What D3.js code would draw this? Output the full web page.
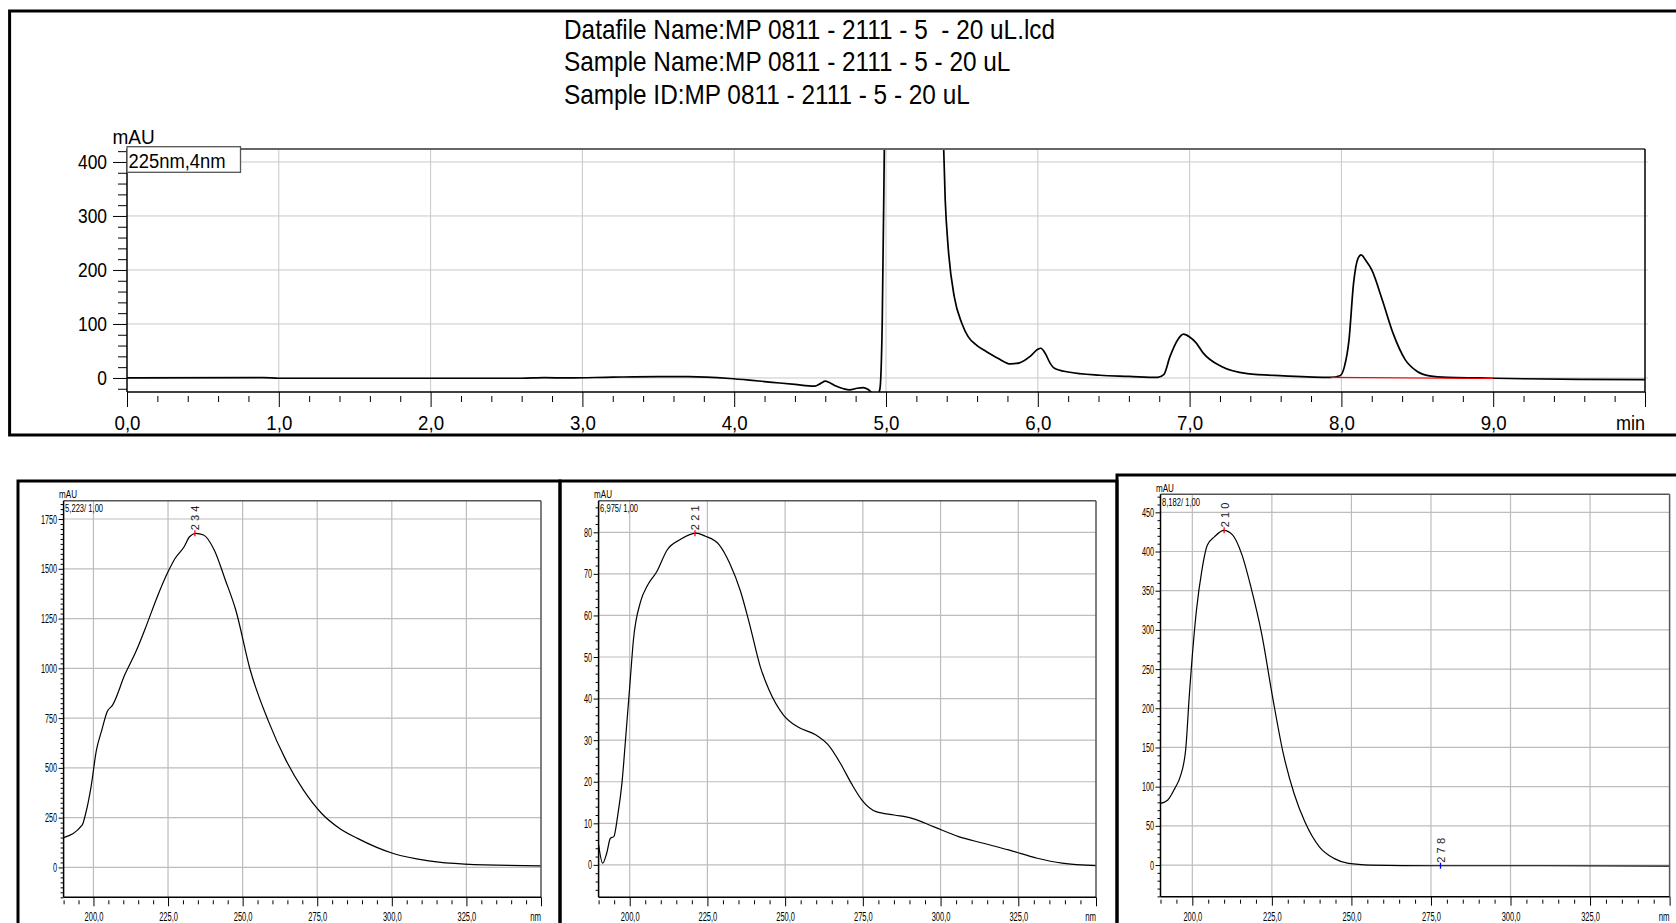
<!DOCTYPE html>
<html>
<head>
<meta charset="utf-8">
<script src="https://cdn.jsdelivr.net/npm/d3@7"></script>
<style>
	body { margin: 0; background: #fff; }
	text { font-family: "Liberation Sans", Arial, sans-serif; fill: #000; }
</style>
</head>
<body>
<svg id="chart" width="1676" height="923"></svg>
<script>

var titleLines = [
	"Datafile Name:MP 0811 - 2111 - 5  - 20 uL.lcd",
	"Sample Name:MP 0811 - 2111 - 5 - 20 uL",
	"Sample ID:MP 0811 - 2111 - 5 - 20 uL"
];
var channelLabel = "225nm,4nm";

// chromatogram, min / mAU
var timeTicks = [0, 1, 2, 3, 4, 5, 6, 7, 8, 9, 10];
var timeRange = [0, 10];
var absTicks = [0, 100, 200, 300, 400];
var absRange = [-26, 424];
var chromTime = [0.0, 0.9, 1.0, 1.5, 2.0, 2.6, 2.75, 2.9, 3.2, 3.5, 3.7, 3.97, 4.1, 4.25, 4.4, 4.53, 4.57, 4.60, 4.63, 4.67,
	4.72, 4.76, 4.81, 4.85, 4.88, 4.91, 4.94, 4.96, 4.975, 4.99, 5.02, 5.1, 5.22, 5.32, 5.37, 5.39, 5.41, 5.45, 5.50, 5.54,
	5.60, 5.66, 5.74, 5.82, 5.88, 5.95, 6.00, 6.02, 6.05, 6.08, 6.11, 6.2, 6.41, 6.6, 6.79, 6.83, 6.87, 6.92, 6.96, 7.0,
	7.04, 7.09, 7.21, 7.38, 7.62, 7.93, 7.99, 8.02, 8.05, 8.08, 8.11, 8.13, 8.16, 8.20, 8.27, 8.34, 8.42, 8.50, 8.58, 8.7,
	8.9, 9.2, 9.6, 10.0];
var chromAbs = [0, 0.5, -0.5, -0.5, -0.5, -0.5, 0.5, 0, 1.5, 2.5, 2.5, -1, -4, -8, -12, -15, -10, -6, -9, -15,
	-20, -22, -19, -18, -21, -28, -34, -20, 100, 450, 1200, 1700, 1900, 1300, 520, 330, 240, 150, 101, 77,
	60, 49, 36, 26, 28, 40, 53, 55, 45, 28, 18, 11, 5, 3, 1, 6, 39, 70, 81, 76,
	66, 46, 21, 8, 4, 1, 4, 21, 70, 175, 222, 228, 218, 200, 144, 83, 34, 12, 4, 1,
	0, -1.5, -2.5, -3];
var baseTime = [7.93, 9.0];
var baseAbs = [1, -1];

// UV spectra, nm / mAU
var nmTicks = [200, 225, 250, 275, 300, 325];
var nmRange = [190, 350];
var specNames = ["5,223/ 1,00", "6,975/ 1,00", "8,182/ 1,00"];

var spec1Nm = [190, 196.2, 197.4, 199.2, 201, 202.8, 204.6, 206.4, 210.6, 214.2, 217.8, 221.4, 225, 227.4, 230.4, 232.2,
	234.3, 236.9, 240.6, 244.2, 247.7, 252.5, 258.5, 264.5, 270.4, 276.5, 282.5, 288.5, 300.5, 312.4, 324.4, 350];
var spec1Abs = [150, 212, 271, 405, 589, 690, 782, 815, 971, 1083, 1217, 1360, 1485, 1553, 1611, 1661,
	1678, 1670, 1591, 1444, 1293, 994, 740, 539, 388, 271, 196, 146, 70, 33, 17, 8];
var spec1Ticks = [0, 250, 500, 750, 1000, 1250, 1500, 1750];
var spec1Range = [-150, 1842];
var spec1Peaks = [234];
var spec1PeakAbs = [1678];
var spec1PeakKind = ["max"];

var spec2Nm = [190, 191.3, 192.6, 193.8, 194.9, 196.1, 197.5, 198.9, 200.1, 201.2, 203.5, 205.8, 208.7, 212.1, 216.1, 221.3,
	224.2, 228.8, 232.2, 235.7, 238.5, 242, 244.8, 249.4, 254, 259.8, 263.8, 267.8, 271.3, 274.7, 279.3, 285.1,
	290.8, 297.7, 305.8, 313.8, 321.9, 331.1, 339.1, 350];
var spec2Abs = [4.8, 0.4, 2.8, 6.4, 6.8, 11.6, 19.6, 32.4, 43.7, 54.1, 63.3, 67.3, 70.5, 75.8, 78.2, 79.8,
	79.1, 77.0, 72.5, 65.7, 58.1, 47.7, 42.1, 36.1, 33.2, 31.3, 28.9, 24.4, 19.6, 15.6, 12.8, 12.0,
	11.2, 9.2, 6.8, 5.2, 3.6, 1.6, 0.4, -0.2];
var spec2Ticks = [0, 10, 20, 30, 40, 50, 60, 70, 80];
var spec2Range = [-7.8, 87.6];
var spec2Peaks = [221];
var spec2PeakAbs = [79.8];
var spec2PeakKind = ["max"];

var spec3Nm = [190, 192.3, 194.5, 196.2, 197.9, 199.1, 201.3, 203, 204.7, 207, 209.9, 212.7, 215.5, 218.4, 221.8, 225.2,
	228.6, 232, 235.4, 240, 244.5, 249.1, 255.9, 276.3, 310.4, 350];
var spec3Abs = [78.7, 83, 97.8, 112.7, 146.7, 219, 325, 376, 408, 419, 427, 421, 397, 355, 295, 215,
	142, 91, 55, 23, 8.5, 2.1, 0, -0.9, -0.9, -1.3];
var spec3Ticks = [0, 50, 100, 150, 200, 250, 300, 350, 400, 450];
var spec3Range = [-40.4, 473];
var spec3Peaks = [210, 278];
var spec3PeakAbs = [427, -0.9];
var spec3PeakKind = ["max", "min"];

var svg = d3.select("#chart");

// squeeze text horizontally, the print uses a narrow face
function narrow(sel, k) {
	sel.each(function() {
		var w = this.getComputedTextLength();
		if (w > 0) d3.select(this).attr("textLength", w * k).attr("lengthAdjust", "spacingAndGlyphs");
	});
}

function comma(d) { return d.toFixed(1).replace(".", ","); }

function minorValues(lo, hi, step, majors) {
	return d3.range(Math.ceil(lo / step) * step, hi + 1e-9, step).filter(function(v) {
		return !majors.some(function(m) { return Math.abs(m - v) < 1e-6; });
	});
}

/* ------- FRAMES -------*/
svg.append("rect").attr("x", 9.6).attr("y", 11).attr("width", 1700).attr("height", 424)
	.attr("fill", "none").attr("stroke", "#000").attr("stroke-width", 3);
[[18, 481, 542], [560, 481, 557], [1117, 475, 600]].forEach(function(f) {
	svg.append("rect").attr("x", f[0]).attr("y", f[1]).attr("width", f[2]).attr("height", 500)
		.attr("fill", "none").attr("stroke", "#000").attr("stroke-width", 3);
});

/* ------- TITLE -------*/
svg.append("g").selectAll("text")
	.data(titleLines)
	.enter().append("text")
	.attr("x", 564)
	.attr("y", function(d, i) { return 38.5 + i * 32.5; })
	.attr("xml:space", "preserve")
	.style("white-space", "pre")
	.style("font-size", "28px")
	.text(function(d) { return d; })
	.call(narrow, 0.87);

/* ------- CHROMATOGRAM -------*/
function chromatogram() {
	var box = {left: 127, right: 1645, top: 149, bottom: 392};
	var x = d3.scaleLinear().domain(timeRange).range([box.left, box.right]);
	var y = d3.scaleLinear().domain(absRange).range([box.bottom, box.top]);
	var g = svg.append("g");

	g.append("clipPath").attr("id", "clipTop").append("rect")
		.attr("x", box.left).attr("y", box.top)
		.attr("width", box.right - box.left).attr("height", box.bottom - box.top);

	g.append("g").selectAll("line").data(timeTicks.slice(1, -1)).enter().append("line")
		.attr("x1", x).attr("x2", x).attr("y1", box.top).attr("y2", box.bottom)
		.attr("stroke", "#c8c8c8").attr("stroke-width", 1);
	g.append("g").selectAll("line").data(absTicks).enter().append("line")
		.attr("x1", box.left).attr("x2", box.right + 3).attr("y1", y).attr("y2", y)
		.attr("stroke", "#c8c8c8").attr("stroke-width", 1);

	var pts = chromTime.map(function(t, i) { return [t, chromAbs[i]]; });
	var line = d3.line().x(function(d) { return x(d[0]); }).y(function(d) { return y(d[1]); })
		.curve(d3.curveMonotoneX);
	g.append("path").datum(pts).attr("d", line).attr("clip-path", "url(#clipTop)")
		.attr("fill", "none").attr("stroke", "#000").attr("stroke-width", 1.7);

	var base = baseTime.map(function(t, i) { return [t, baseAbs[i]]; });
	g.append("path").datum(base).attr("d", d3.line().x(function(d) { return x(d[0]); }).y(function(d) { return y(d[1]); }))
		.attr("fill", "none").attr("stroke", "#ff0000").attr("stroke-width", 1.2);

	// plot borders
	g.append("line").attr("x1", box.left).attr("x2", box.right).attr("y1", box.top).attr("y2", box.top)
		.attr("stroke", "#666").attr("stroke-width", 2);
	g.append("line").attr("x1", box.right).attr("x2", box.right).attr("y1", box.top).attr("y2", box.bottom)
		.attr("stroke", "#000").attr("stroke-width", 1.5);
	g.append("line").attr("x1", box.left).attr("x2", box.right).attr("y1", box.bottom).attr("y2", box.bottom)
		.attr("stroke", "#000").attr("stroke-width", 1.5);
	g.append("line").attr("x1", box.left).attr("x2", box.left).attr("y1", box.top).attr("y2", box.bottom)
		.attr("stroke", "#000").attr("stroke-width", 1.5);

	// x axis
	var xa = g.append("g").attr("transform", "translate(0," + box.bottom + ")")
		.call(d3.axisBottom(x).tickValues(timeTicks).tickSize(15).tickPadding(8).tickSizeOuter(0)
			.tickFormat(function(d) { return d === timeRange[1] ? "" : comma(d); }));
	xa.select(".domain").remove();
	xa.selectAll("text").style("font-size", "21px").attr("font-family", null).call(narrow, 0.89);
	var xm = g.append("g").attr("transform", "translate(0," + box.bottom + ")")
		.call(d3.axisBottom(x).tickValues(minorValues(0, 10, 0.2, timeTicks)).tickFormat("").tickSizeOuter(0));
	xm.select(".domain").remove();
	xm.selectAll(".tick line").attr("y1", 4).attr("y2", 10);
	g.append("text").attr("x", box.right).attr("y", 430).attr("text-anchor", "end")
		.style("font-size", "20px").text("min").call(narrow, 0.9);

	// y axis
	var ya = g.append("g").attr("transform", "translate(" + box.left + ",0)")
		.call(d3.axisLeft(y).tickValues(absTicks).tickSize(14).tickPadding(6).tickSizeOuter(0));
	ya.select(".domain").remove();
	ya.selectAll("text").style("font-size", "20px").attr("font-family", null).call(narrow, 0.87);
	var ym = g.append("g").attr("transform", "translate(" + box.left + ",0)")
		.call(d3.axisLeft(y).tickValues(minorValues(-20, 420, 20, absTicks)).tickSize(9).tickFormat("").tickSizeOuter(0));
	ym.select(".domain").remove();
	g.append("text").attr("x", 112.5).attr("y", 144).style("font-size", "20px").text("mAU").call(narrow, 0.95);

	// channel box
	g.append("rect").attr("x", box.left).attr("y", 146.7).attr("width", 113.5).attr("height", 25.6)
		.attr("fill", "#fff").attr("stroke", "#555").attr("stroke-width", 1.3);
	g.append("text").attr("x", box.left + 1.5).attr("y", 168).style("font-size", "20px")
		.text(channelLabel).call(narrow, 0.92);
}

/* ------- SPECTRA -------*/
function spectrum(box, nm, abs, ticks, minorStep, range, name, peaks, peakAbs, peakKind) {
	var x = d3.scaleLinear().domain(nmRange).range([box.left, box.right]);
	var y = d3.scaleLinear().domain(range).range([box.bottom, box.top]);
	var g = svg.append("g");

	g.append("g").selectAll("line").data(nmTicks).enter().append("line")
		.attr("x1", x).attr("x2", x).attr("y1", box.top).attr("y2", box.bottom)
		.attr("stroke", "#bdbdbd").attr("stroke-width", 1.2);
	g.append("g").selectAll("line").data(ticks).enter().append("line")
		.attr("x1", box.left).attr("x2", box.right).attr("y1", y).attr("y2", y)
		.attr("stroke", "#bdbdbd").attr("stroke-width", 1.2);

	var pts = nm.map(function(v, i) { return [v, abs[i]]; });
	g.append("path").datum(pts)
		.attr("d", d3.line().x(function(d) { return x(d[0]); }).y(function(d) { return y(d[1]); }).curve(d3.curveMonotoneX))
		.attr("fill", "none").attr("stroke", "#000").attr("stroke-width", 1.2);

	g.append("line").attr("x1", box.left).attr("x2", box.right).attr("y1", box.top).attr("y2", box.top)
		.attr("stroke", "#555").attr("stroke-width", 1.5);
	g.append("line").attr("x1", box.right).attr("x2", box.right).attr("y1", box.top).attr("y2", box.bottom)
		.attr("stroke", "#555").attr("stroke-width", 1.5);
	g.append("line").attr("x1", box.left).attr("x2", box.right).attr("y1", box.bottom).attr("y2", box.bottom)
		.attr("stroke", "#000").attr("stroke-width", 1.5);
	g.append("line").attr("x1", box.left).attr("x2", box.left).attr("y1", box.top).attr("y2", box.bottom)
		.attr("stroke", "#000").attr("stroke-width", 1.5);

	// x axis
	var xa = g.append("g").attr("transform", "translate(0," + box.bottom + ")")
		.call(d3.axisBottom(x).tickValues(nmTicks.concat([nmRange[1]])).tickSize(9).tickPadding(6).tickSizeOuter(0)
			.tickFormat(function(d) { return d === nmRange[1] ? "" : comma(d); }));
	xa.select(".domain").remove();
	xa.selectAll("text").style("font-size", "12.5px").attr("font-family", null).call(narrow, 0.6);
	var xm = g.append("g").attr("transform", "translate(0," + box.bottom + ")")
		.call(d3.axisBottom(x).tickValues(minorValues(nmRange[0], nmRange[1], 5, nmTicks.concat([nmRange[1]])))
			.tickFormat("").tickSizeOuter(0));
	xm.select(".domain").remove();
	xm.selectAll(".tick line").attr("y1", 3).attr("y2", 7);
	g.append("text").attr("x", box.right).attr("y", 921).attr("text-anchor", "end")
		.style("font-size", "12px").text("nm").call(narrow, 0.65);

	// y axis
	var ya = g.append("g").attr("transform", "translate(" + box.left + ",0)")
		.call(d3.axisLeft(y).tickValues(ticks).tickSize(5).tickPadding(1.5).tickSizeOuter(0).tickFormat(d3.format("d")));
	ya.select(".domain").remove();
	ya.selectAll("text").style("font-size", "12.5px").attr("font-family", null).call(narrow, 0.58);
	var ym = g.append("g").attr("transform", "translate(" + box.left + ",0)")
		.call(d3.axisLeft(y).tickValues(minorValues(range[0], range[1], minorStep, ticks)).tickSize(3).tickFormat("").tickSizeOuter(0));
	ym.select(".domain").remove();

	g.append("text").attr("x", box.left - 4.5).attr("y", box.top - 2.7).style("font-size", "11.5px")
		.text("mAU").call(narrow, 0.7);
	g.append("text").attr("x", box.left + 1.5).attr("y", box.top + 11.5).style("font-size", "11.5px")
		.text(name).call(narrow, 0.66);

	// peak marks
	peaks.forEach(function(p, i) {
		var px = x(p), py = y(peakAbs[i]);
		var col = peakKind[i] === "max" ? "#ff0000" : "#0000ff";
		g.append("line").attr("x1", px).attr("x2", px).attr("y1", py - 3).attr("y2", py + 3)
			.attr("stroke", col).attr("stroke-width", 1.3);
		g.append("text").attr("transform", "translate(" + (px + 0.5) + "," + (py - 3) + ") rotate(-90)")
			.attr("dominant-baseline", "central")
			.style("font-size", "11px").style("letter-spacing", "3.2px").style("fill", "#222")
			.text(p);
	});
}

chromatogram();
spectrum({left: 63.6, right: 541, top: 500.7, bottom: 897.3}, spec1Nm, spec1Abs, spec1Ticks, 25, spec1Range,
	specNames[0], spec1Peaks, spec1PeakAbs, spec1PeakKind);
spectrum({left: 598.6, right: 1096, top: 500.7, bottom: 897.3}, spec2Nm, spec2Abs, spec2Ticks, 2, spec2Range,
	specNames[1], spec2Peaks, spec2PeakAbs, spec2PeakKind);
spectrum({left: 1160.5, right: 1669.6, top: 494.3, bottom: 896.7}, spec3Nm, spec3Abs, spec3Ticks, 10, spec3Range,
	specNames[2], spec3Peaks, spec3PeakAbs, spec3PeakKind);

</script>
</body>
</html>
